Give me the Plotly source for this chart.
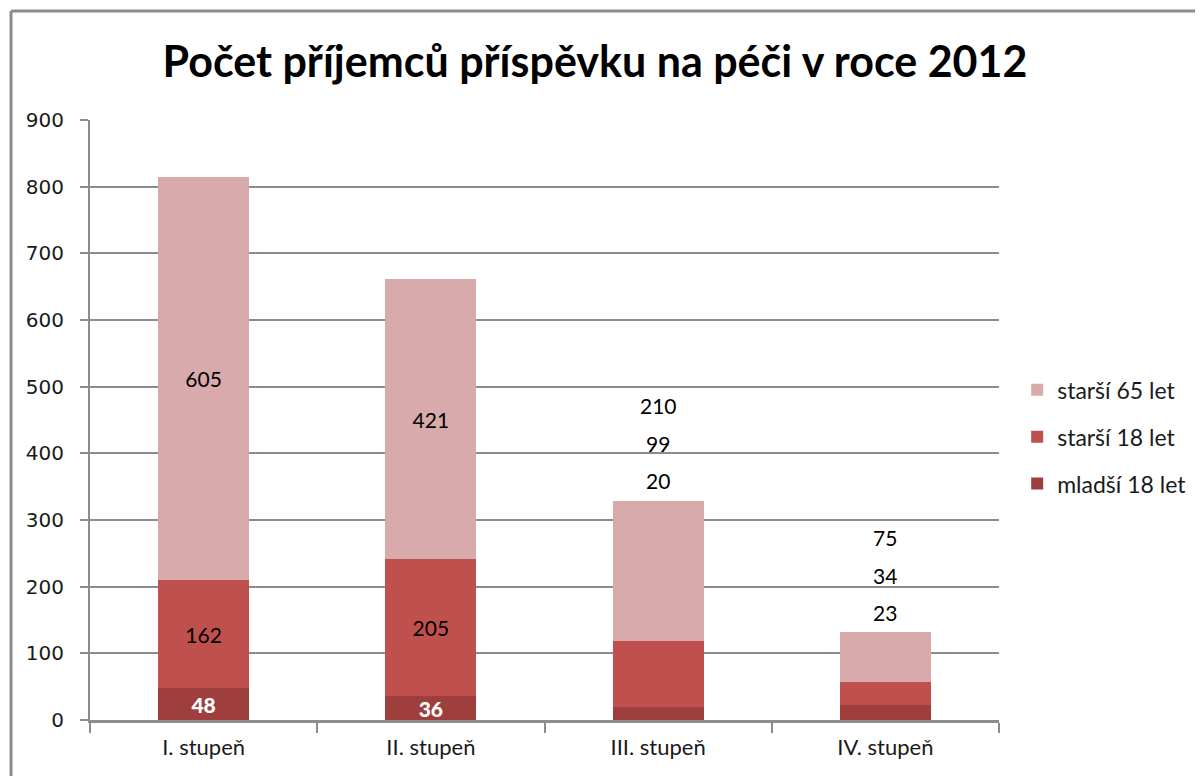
import plotly.graph_objects as go

categories = ["I. stupeň", "II. stupeň", "III. stupeň", "IV. stupeň"]
mladsi18 = [48, 36, 20, 23]
starsi18 = [162, 205, 99, 34]
starsi65 = [605, 421, 210, 75]
series_names = ["mladší 18 let", "starší 18 let", "starší 65 let"]
colors = ["#9E3F3E", "#C0504D", "#D9AAAB"]
y_ticks = [0, 100, 200, 300, 400, 500, 600, 700, 800, 900]

inside_cats = categories[:2]   # labels drawn inside the bars
outside_cats = categories[2:]  # labels drawn above the bars

series = [mladsi18, starsi18, starsi65]
label_colors = ["white", "black", "black"]
label_fonts = ["Lato Black", "Lato", "Lato"]
legend_ranks = [3, 2, 1]

fig = go.Figure()
for name, vals, col, lc, lf, rk in zip(series_names, series, colors, label_colors, label_fonts, legend_ranks):
    texts = [str(v) if c in inside_cats else "" for c, v in zip(categories, vals)]
    fig.add_trace(go.Bar(
        x=categories, y=vals, name=name, marker=dict(color=col, line=dict(width=0)),
        text=texts, textposition="inside", insidetextanchor="middle",
        textangle=0, constraintext="none",
        textfont=dict(family=lf, size=21, color=lc),
        legendgroup=name, legendrank=rk, hoverinfo="skip",
    ))

# labels above bars for III and IV
shifts = [20, 57, 95]
for c in outside_cats:
    i = categories.index(c)
    total = sum(s[i] for s in series)
    for s, sh in zip(series, shifts):
        fig.add_annotation(x=c, y=total, text=str(s[i]), showarrow=False,
                           yshift=sh, yanchor="middle",
                           font=dict(family="Lato", size=21, color="black"))

# outer frame
fy = 1 + (120 - 11) / 600
fx = (10 - 89) / 909
fig.add_shape(type="line", xref="paper", yref="paper",
              x0=fx, x1=1.4, y0=fy, y1=fy,
              line=dict(color="#8C8C8C", width=3))
fig.add_shape(type="line", xref="paper", yref="paper",
              x0=fx, x1=fx, y0=fy, y1=-0.3,
              line=dict(color="#8C8C8C", width=3))

fig.update_layout(
    width=1203, height=776,
    margin=dict(l=82, r=212, t=112, b=64),
    paper_bgcolor="white", plot_bgcolor="white",
    barmode="stack", bargap=0.6,
    title=dict(text="<b>Počet příjemců příspěvku na péči v roce 2012</b>",
               x=(595 - 8) / 1203, xref="container", xanchor="center",
               y=1 - (62 - 8) / 776, yref="container", yanchor="middle",
               font=dict(family="Lato", size=43, color="black")),
    legend=dict(x=1.02, xanchor="left", y=0.472, yanchor="middle",
                traceorder="grouped", tracegroupgap=14,
                font=dict(family="Lato", size=23, color="#1a1a1a"),
                bgcolor="rgba(0,0,0,0)"),
    showlegend=True,
)
fig.update_yaxes(range=[0, 900], tickvals=y_ticks, showgrid=True,
                 gridcolor="#8C8C8C", gridwidth=1.5,
                 showline=True, linecolor="#8C8C8C", linewidth=2,
                 ticks="outside", ticklen=8, tickcolor="#8C8C8C", tickwidth=2,
                 tickfont=dict(family="DejaVu Sans", size=20, color="#1a1a1a"),
                 ticklabelstandoff=12, zeroline=False)
fig.update_xaxes(showline=True, linecolor="#8C8C8C", linewidth=2.5,
                 ticks="outside", tickson="boundaries", ticklen=10,
                 tickcolor="#8C8C8C", tickwidth=2,
                 tickfont=dict(family="Lato", size=22, color="#1a1a1a"),
                 ticklabelstandoff=6)

fig.write_html("out.html")
